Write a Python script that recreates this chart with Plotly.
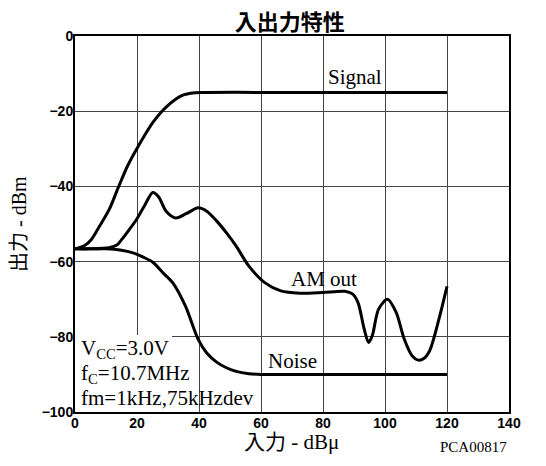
import plotly.graph_objects as go

# ---- data ----
x_ticks = [0, 20, 40, 60, 80, 100, 120, 140]
y_ticks = [0, -20, -40, -60, -80, -100]

signal_x = [0, 3, 5.3, 7.9, 11, 14.1, 17.1, 20, 25.3, 29.4, 34.6, 38.7, 42, 60, 80, 100, 120]
signal_y = [-56.6, -55.8, -54.1, -50.6, -46.2, -40, -34.3, -29.9, -22.8, -18.9, -15.8, -15.1, -15, -15, -15, -15, -15]

am_x = [0, 5, 11, 13.5, 15.1, 17.5, 20, 22.5, 25.1, 27, 29.4, 32.5, 36, 39.7, 42.5, 45.8, 49, 52,
        56.1, 61.2, 66.4, 72.5, 80, 87, 89.5, 91.3, 93.3, 94.7, 95.9, 97.9, 100.8, 103.6, 106.2,
        108.7, 110.8, 112.5, 114.4, 117.4, 120]
am_y = [-56.6, -56.6, -56.3, -55.6, -54.1, -51.5, -48.6, -45, -41.6, -42.8, -46.6, -48.4, -47.2,
        -45.7, -46.6, -49.3, -52.5, -55.9, -61.2, -65.6, -67.8, -68.4, -68.2, -67.9, -68.6, -70.9,
        -78, -81.5, -79.7, -72.7, -70, -73.5, -80.6, -85, -86.2, -85.8, -83.7, -75.3, -66.6]

noise_x = [0, 10, 15, 19.2, 22, 25.3, 28.4, 31.5, 35.6, 39.7, 42.5, 45.8, 49, 52, 56.1, 60, 80, 100, 120]
noise_y = [-56.6, -56.6, -57, -57.8, -58.8, -60.3, -63, -65.6, -71.8, -80.6, -84.3, -86.8, -88.3,
           -89.2, -89.8, -90, -90, -90, -90]

curve_labels = ["Signal", "AM out", "Noise"]
label_x = [90.2, 80.3, 70]
label_y = [-11, -64.5, -86.4]

cond_lines = ["V<sub>CC</sub>=3.0V", "f<sub>C</sub>=10.7MHz", "fm=1kHz,75kHzdev"]
cond_y = [-83.2, -89.8, -96.2]

SERIF = "Liberation Serif, Noto Sans CJK JP"
CJK = "Noto Sans CJK JP"

fig = go.Figure()
for xs, ys in [(signal_x, signal_y), (am_x, am_y), (noise_x, noise_y)]:
    fig.add_trace(go.Scatter(x=xs, y=ys, mode="lines",
                             line=dict(color="black", width=3, shape="spline", smoothing=0.8),
                             showlegend=False, hoverinfo="skip"))

for t, xx, yy in zip(curve_labels, label_x, label_y):
    fig.add_annotation(x=xx, y=yy, text=t, showarrow=False,
                       font=dict(family=SERIF, size=21, color="black"))

for t, yy in zip(cond_lines, cond_y):
    fig.add_annotation(x=1.3, y=yy, text=t, showarrow=False, xanchor="left",
                       font=dict(family=SERIF, size=21, color="black"))

fig.add_shape(type="rect", x0=0, x1=31.3, y0=-100, y1=-79.5, xref="x", yref="y",
              fillcolor="white", line=dict(width=0), layer="between")

fig.add_annotation(xref="paper", yref="paper", x=0.498, y=-0.079, text="入力 - dBμ",
                   showarrow=False, yanchor="middle",
                   font=dict(family=SERIF, size=21, color="black"))
fig.add_annotation(xref="paper", yref="paper", x=-0.129, y=0.5, text="出力 - dBm",
                   showarrow=False, textangle=-90, xanchor="center", yanchor="middle",
                   font=dict(family=SERIF, size=20, color="black"))
fig.add_annotation(xref="paper", yref="paper", x=1.0, y=-0.092, text="PCA00817",
                   showarrow=False, xanchor="right", yanchor="middle",
                   font=dict(family=SERIF, size=15, color="black"))

# page body has an 8px default margin, so the figure is 8px smaller than the window
fig.update_layout(
    width=538, height=458,
    margin=dict(l=67, r=37, t=28, b=54),
    paper_bgcolor="white", plot_bgcolor="white",
    title=dict(text="<b>入出力特性</b>", x=0.495, xref="paper", y=0.968, yref="container",
               xanchor="center", yanchor="middle",
               font=dict(family=CJK, size=22, color="black")),
)
fig.update_xaxes(range=[0, 140], tickvals=x_ticks, showgrid=True, gridcolor="#444", gridwidth=1,
                 showline=True, mirror=True, linecolor="black", linewidth=2, ticks="",
                 zeroline=False, ticklabelstandoff=-3,
                 tickfont=dict(family="Liberation Sans", size=14, color="black", weight="bold"))
fig.update_yaxes(range=[-100, 0], tickvals=y_ticks, showgrid=True, gridcolor="#444", gridwidth=1,
                 showline=True, mirror=True, linecolor="black", linewidth=2, ticks="",
                 zeroline=False, ticklabelstandoff=-3,
                 tickfont=dict(family="Liberation Sans", size=14, color="black", weight="bold"))

fig.write_html("out.html")
